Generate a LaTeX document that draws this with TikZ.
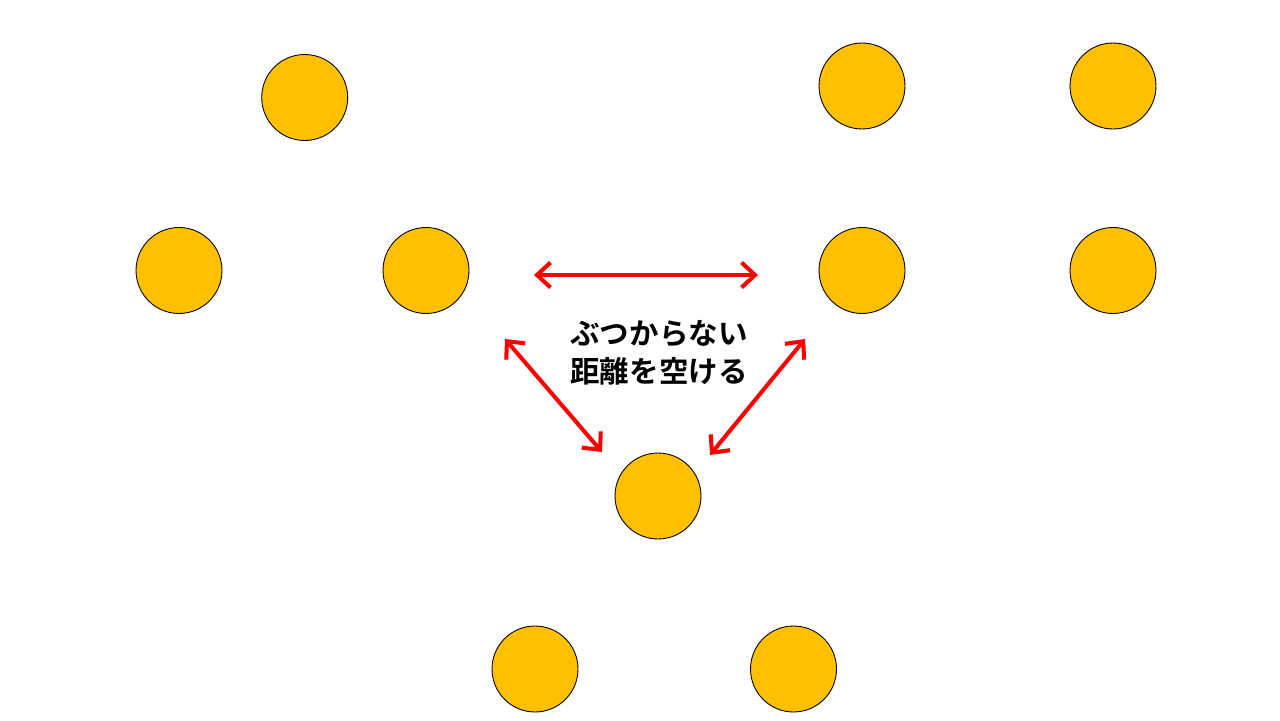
\documentclass[tikz,border=0pt]{standalone}
\usepackage{fontspec}
\newfontfamily\jpfont{Noto Sans CJK JP}[BoldFont={Noto Sans CJK JP Bold}]
\usetikzlibrary{arrows.meta}
\definecolor{ballyellow}{HTML}{FFC000}
\definecolor{gapred}{HTML}{FF0000}
\begin{document}
\begin{tikzpicture}[
        x=0.02cm, y=-0.02cm,
        ball/.style={circle, draw=black, fill=ballyellow, line width=0.5pt,
          minimum size=1.72cm, inner sep=0pt},
        gap/.style={draw=gapred, line width=2.3pt,
          {Straight Barb[length=0.27cm, width=0.5cm]}-{Straight Barb[length=0.27cm, width=0.5cm]}}
    ]
    % Canvas
    \useasboundingbox (0,0) rectangle (1280,720);

    % Players (top rows)
    \node[ball] (B1) at (304.7,97.5) {};
    \node[ball] (B2) at (862,86) {};
    \node[ball] (B3) at (1113,86) {};
    \node[ball] (B4) at (179,270.5) {};
    \node[ball] (B5) at (426,270.5) {};
    \node[ball] (B6) at (862,270.5) {};
    \node[ball] (B7) at (1113,270.5) {};
    % Players (bottom)
    \node[ball] (B8) at (658,496) {};
    \node[ball] (B9) at (535,669) {};
    \node[ball] (B10) at (793.5,669) {};

    % Arrow end points
    \coordinate (HL) at (534,275);
    \coordinate (HR) at (758,275);
    \coordinate (LT) at (505,339);
    \coordinate (LB) at (602,452);
    \coordinate (RT) at (805,339);
    \coordinate (RB) at (710,455);

    % Spacing arrows
    \draw[gap] (HL) -- (HR);
    \draw[gap] (LT) -- (LB);
    \draw[gap] (RT) -- (RB);

    % Label
    \node[font=\jpfont\bfseries\fontsize{16.8pt}{21.6pt}\selectfont, align=center]
      (note) at (659,353) {ぶつからない\\距離を空ける};
\end{tikzpicture}
\end{document}
